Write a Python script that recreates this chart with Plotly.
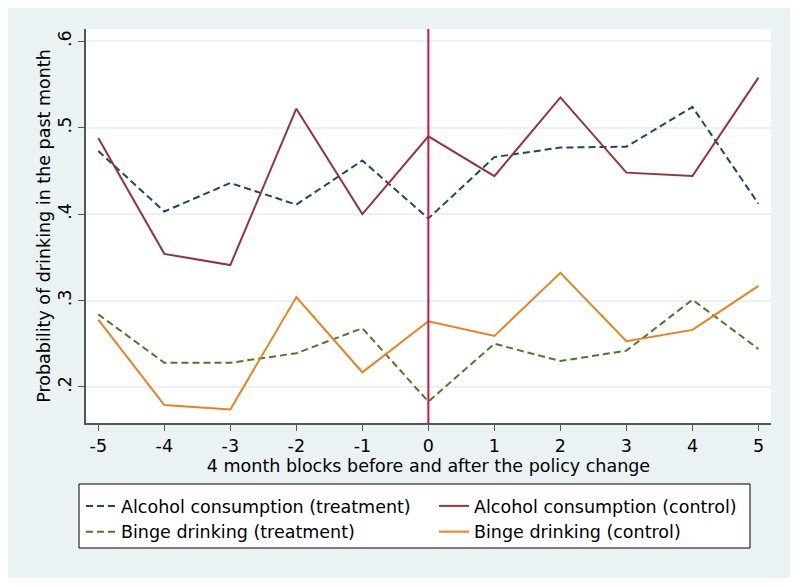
import plotly.graph_objects as go

blocks = [-5, -4, -3, -2, -1, 0, 1, 2, 3, 4, 5]
alc_treat = [0.473, 0.403, 0.436, 0.411, 0.462, 0.395, 0.466, 0.477, 0.478, 0.524, 0.412]
alc_ctrl = [0.488, 0.354, 0.341, 0.522, 0.400, 0.490, 0.444, 0.535, 0.448, 0.444, 0.558]
binge_treat = [0.284, 0.228, 0.228, 0.239, 0.268, 0.183, 0.250, 0.230, 0.242, 0.301, 0.244]
binge_ctrl = [0.278, 0.179, 0.174, 0.304, 0.217, 0.276, 0.259, 0.332, 0.253, 0.266, 0.317]
y_ticks = [0.2, 0.3, 0.4, 0.5, 0.6]
y_labels = [".2", ".3", ".4", ".5", ".6"]
policy_x = 0

FONT = "DejaVu Sans, Liberation Sans, Arial, sans-serif"
FS = 17.5
DASH = "7px,4px"
# the page body adds an 8px white border around the figure
W, H = 782, 570
L, R, T, B = 78, 19, 21, 155
pw, ph = W - L - R, H - T - B

def px_x(p):
    return (p - L) / pw

def px_y(p):
    return (H - B - p) / ph

fig = go.Figure()
fig.add_trace(go.Scatter(x=blocks, y=alc_treat, mode="lines", name="Alcohol consumption (treatment)",
                         line=dict(color="#1A476F", width=2, dash=DASH), legend="legend"))
fig.add_trace(go.Scatter(x=blocks, y=alc_ctrl, mode="lines", name="Alcohol consumption (control)",
                         line=dict(color="#90353B", width=2), legend="legend2"))
fig.add_trace(go.Scatter(x=blocks, y=binge_treat, mode="lines", name="Binge drinking (treatment)",
                         line=dict(color="#55752F", width=2, dash=DASH), legend="legend"))
fig.add_trace(go.Scatter(x=blocks, y=binge_ctrl, mode="lines", name="Binge drinking (control)",
                         line=dict(color="#E8821E", width=2), legend="legend2"))

# legend box
fig.add_shape(type="rect", xref="paper", yref="paper", layer="below",
              x0=px_x(71), x1=px_x(742), y0=px_y(540), y1=px_y(476),
              fillcolor="white", line=dict(color="black", width=1))
# policy change line
fig.add_shape(type="line", xref="x", yref="paper", x0=policy_x, x1=policy_x, y0=0, y1=1,
              line=dict(color="#C8184A", width=2), layer="above")

leg_common = dict(orientation="v", yanchor="top", xanchor="left", bgcolor="rgba(0,0,0,0)",
                  borderwidth=0, font=dict(family=FONT, size=FS, color="black"),
                  itemwidth=30, tracegroupgap=0)

fig.update_layout(
    width=W, height=H,
    margin=dict(l=L, r=R, t=T, b=B, autoexpand=False),
    paper_bgcolor="#EAF2F3", plot_bgcolor="white",
    font=dict(family=FONT, size=FS, color="black"),
    showlegend=True,
    legend=dict(x=px_x(73), y=px_y(480), **leg_common),
    legend2=dict(x=px_x(426), y=px_y(480), **leg_common),
    xaxis=dict(range=[-5.186, 5.19], tickmode="array", tickvals=blocks,
               ticktext=[str(b) for b in blocks], showgrid=False, zeroline=False,
               showline=True, linecolor="#555555", linewidth=1.5,
               ticks="outside", ticklen=6, tickcolor="#555555", automargin=False,
               tickfont=dict(size=FS),
               title=dict(text="4 month blocks before and after the policy change",
                          font=dict(size=FS), standoff=2)),
    yaxis=dict(range=[0.1583, 0.6142], tickmode="array", tickvals=y_ticks, ticktext=y_labels,
               tickangle=-90, showgrid=True, gridcolor="#EAF2F3", gridwidth=1.5, zeroline=False,
               showline=True, linecolor="#555555", linewidth=1.5,
               ticks="outside", ticklen=6, tickcolor="#555555", automargin=False,
               tickfont=dict(size=FS),
               title=dict(text="Probability of drinking in the past month",
                          font=dict(size=FS), standoff=0)),
)

fig.write_html("out.html")
